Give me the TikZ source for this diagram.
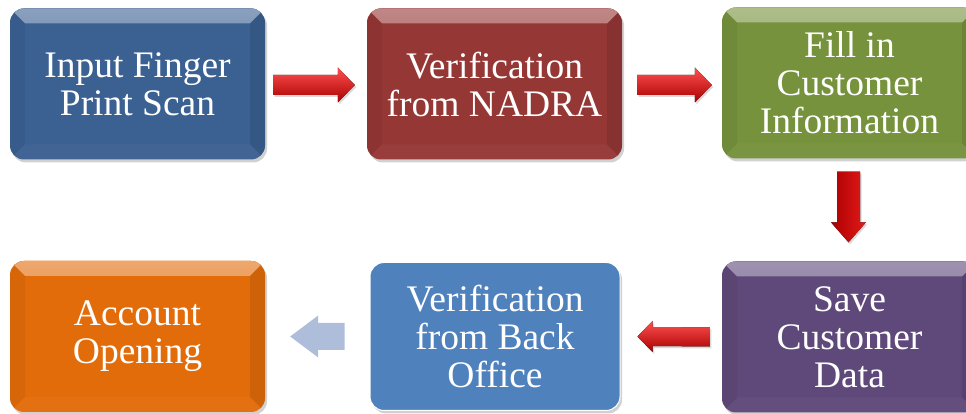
\documentclass[tikz,border=0pt]{standalone}
\usepackage{fontspec}
\newfontfamily\tnr{Liberation Serif}
\usetikzlibrary{calc,shadows}
\definecolor{cblue}{RGB}{59,96,146}
\definecolor{cred}{RGB}{149,55,53}
\definecolor{cgreen}{RGB}{118,146,60}
\definecolor{cpurple}{RGB}{95,73,122}
\definecolor{clight}{RGB}{79,129,189}
\definecolor{corange}{RGB}{227,108,10}
\definecolor{arrowtop}{RGB}{255,80,80}
\definecolor{arrowmid}{RGB}{225,0,0}
\definecolor{arrowbot}{RGB}{170,0,0}
\definecolor{arrowpale}{RGB}{174,190,218}
\begin{document}
\begin{tikzpicture}[x=1pt,y=1pt]
\useasboundingbox (0,0) rectangle (966,414);
\tikzset{
  boxbase/.style={rounded corners=14pt, minimum width=255pt, minimum height=151pt,
    fill=#1, text=white, align=center, inner sep=0pt,
    font=\tnr\fontsize{37.5}{38}\selectfont,
    drop shadow={shadow xshift=2pt, shadow yshift=-3pt, opacity=0.3, fill=black!60}},
  bevelbox/.style={boxbase=#1,
    path picture={
      \fill[sharp corners, top color=#1!60!white, bottom color=#1!95!white]
        (path picture bounding box.north west) -- (path picture bounding box.north east)
        -- ($(path picture bounding box.north east)+(-15,-15)$)
        -- ($(path picture bounding box.north west)+(15,-15)$) -- cycle;
      \fill[sharp corners, black, opacity=0.05]
        (path picture bounding box.north west) -- ($(path picture bounding box.north west)+(15,-15)$)
        -- ($(path picture bounding box.south west)+(15,15)$) -- (path picture bounding box.south west) -- cycle;
      \fill[sharp corners, black, opacity=0.09]
        (path picture bounding box.north east) -- ($(path picture bounding box.north east)+(-15,-15)$)
        -- ($(path picture bounding box.south east)+(-15,15)$) -- (path picture bounding box.south east) -- cycle;
      \fill[sharp corners, white, opacity=0.03]
        (path picture bounding box.south west) -- ($(path picture bounding box.south west)+(15,15)$)
        -- ($(path picture bounding box.south east)+(-15,15)$) -- (path picture bounding box.south east) -- cycle;
    }},
  flatbox/.style={boxbase=#1, draw=white, line width=1pt},
  redarrow/.style={top color=arrowtop, middle color=arrowmid, bottom color=arrowbot,
    drop shadow={shadow xshift=1.5pt, shadow yshift=-2pt, opacity=0.25, fill=black!60}},
  redarrowv/.style={left color=arrowbot, middle color=arrowmid, right color=arrowmid!90!white,
    drop shadow={shadow xshift=1.5pt, shadow yshift=-2pt, opacity=0.25, fill=black!60}},
  palearrow/.style={fill=arrowpale},
}
\node[bevelbox=cblue]   (b1) at (137.5,330) {Input Finger\\Print Scan};
\node[bevelbox=cred]    (b2) at (494.5,330) {Verification\\from NADRA};
\node[bevelbox=cgreen]  (b3) at (849.5,331) {Fill in\\Customer\\Information};
\node[bevelbox=cpurple] (b4) at (849.5,77)  {Save\\Customer\\Data};
\node[flatbox=clight, minimum width=250pt, minimum height=148pt] (b5) at (495,77.5) {Verification\\from Back\\Office};
\node[bevelbox=corange] (b6) at (137.5,77.5) {Account\\Opening};

% right arrow b1 -> b2
\path ($(b1.east)+(8,-1)$) coordinate (a1s) ($(b2.west)+(-12,-1)$) coordinate (a1t);
\fill[redarrow] ($(a1s)+(0,10)$) -- ($(a1t)+(-17,10)$) -- ($(a1t)+(-17,17.5)$) -- (a1t)
  -- ($(a1t)+(-17,-17.5)$) -- ($(a1t)+(-17,-10)$) -- ($(a1s)+(0,-10)$) -- cycle;
% right arrow b2 -> b3
\path ($(b2.east)+(15,-1)$) coordinate (a2s) ($(b3.west)+(-10,-2)$) coordinate (a2t);
\fill[redarrow] ($(a2s)+(0,10)$) -- ($(a2t)+(-17,10)$) -- ($(a2t)+(-17,17.5)$) -- (a2t)
  -- ($(a2t)+(-17,-17.5)$) -- ($(a2t)+(-17,-10)$) -- ($(a2s)+(0,-10)$) -- cycle;
% down arrow b3 -> b4
\path ($(b3.south)+(-1,-13)$) coordinate (a3s) ($(b4.north)+(-1,19)$) coordinate (a3t);
\fill[redarrowv] ($(a3s)+(-11.5,0)$) -- ($(a3t)+(-11.5,20)$) -- ($(a3t)+(-17.5,20)$) -- (a3t)
  -- ($(a3t)+(17.5,20)$) -- ($(a3t)+(11.5,20)$) -- ($(a3s)+(11.5,0)$) -- cycle;
% left arrow b4 -> b5
\path ($(b4.west)+(-12,0)$) coordinate (a4s) ($(b5.east)+(17,0)$) coordinate (a4t);
\fill[redarrow] ($(a4s)+(0,9.5)$) -- ($(a4t)+(15,9.5)$) -- ($(a4t)+(15,15.5)$) -- (a4t)
  -- ($(a4t)+(15,-15.5)$) -- ($(a4t)+(15,-9.5)$) -- ($(a4s)+(0,-9.5)$) -- cycle;
% pale left arrow b5 -> b6
\path ($(b5.west)+(-25,0)$) coordinate (a5s) ($(b6.east)+(25,0)$) coordinate (a5t);
\fill[palearrow] ($(a5s)+(0,13.5)$) -- ($(a5t)+(28,13.5)$) -- ($(a5t)+(28,21)$) -- (a5t)
  -- ($(a5t)+(28,-21)$) -- ($(a5t)+(28,-13.5)$) -- ($(a5s)+(0,-13.5)$) -- cycle;
\end{tikzpicture}
\end{document}
